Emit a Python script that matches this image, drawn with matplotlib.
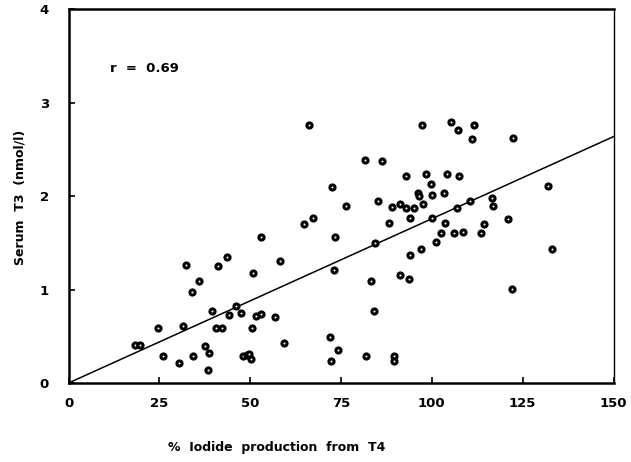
import matplotlib
matplotlib.use("Agg")
import matplotlib.pyplot as plt
import numpy as np

# % iodide production from T4 versus serum T3
iodide_pct = [18.2, 19.7, 24.7, 25.9, 30.3, 31.6, 32.3, 34.0, 34.2, 35.8,
              37.5, 38.3, 38.7, 39.4, 40.6, 41.2, 42.3, 43.7, 44.3, 46.2,
              47.5, 48.0, 49.0, 49.7, 50.2, 50.4, 50.8, 51.7, 53.0, 52.9,
              56.9, 58.3, 59.4, 64.9, 66.3, 67.2, 71.9, 72.5, 72.3, 73.2,
              73.4, 74.3, 76.3, 81.5, 81.9, 83.2, 84.0, 84.3, 85.2, 86.3,
              88.3, 89.0, 89.6, 89.6, 91.1, 91.3, 92.9, 92.9, 93.6, 93.9,
              93.9, 95.0, 96.1, 96.5, 96.9, 97.2, 97.6, 98.5, 99.9, 100.0,
              100.1, 101.1, 102.5, 103.4, 103.6, 104.1, 105.2, 106.1, 106.8, 107.1,
              107.5, 108.5, 110.5, 111.1, 111.6, 113.6, 114.3, 116.6, 116.8, 120.9,
              122.2, 122.0, 132.0, 133.1]
serum_t3 = [0.41, 0.41, 0.59, 0.29, 0.21, 0.61, 1.26, 0.975, 0.29, 1.09,
            0.40, 0.14, 0.32, 0.77, 0.59, 1.25, 0.59, 1.35, 0.73, 0.82,
            0.75, 0.29, 0.30, 0.31, 0.26, 0.59, 1.18, 0.72, 0.74, 1.56,
            0.71, 1.30, 0.43, 1.70, 2.76, 1.77, 0.49, 2.10, 0.24, 1.21,
            1.56, 0.35, 1.89, 2.38, 0.29, 1.09, 0.77, 1.50, 1.95, 2.37,
            1.71, 1.88, 0.29, 0.24, 1.91, 1.16, 2.21, 1.875, 1.11, 1.76,
            1.37, 1.875, 2.03, 2.00, 1.43, 2.76, 1.91, 2.24, 2.125, 2.01,
            1.76, 1.51, 1.60, 2.03, 1.71, 2.24, 2.79, 1.60, 1.87, 2.71,
            2.21, 1.61, 1.95, 2.61, 2.76, 1.60, 1.70, 1.98, 1.89, 1.75,
            2.62, 1.01, 2.11, 1.43]

# regression line through the origin
fit_x = [0, 150]
slope = 0.01757
r_text = "r  =  0.69"

x_ticks = [0, 25, 50, 75, 100, 125, 150]
y_ticks = [0, 1, 2, 3, 4]

fig = plt.figure(figsize=(6.31, 4.62), dpi=100)
ax = fig.add_axes([0.1086, 0.171, 0.8637, 0.8095])

ax.plot(iodide_pct, serum_t3, linestyle="none", marker="o", markersize=3.7,
        markerfacecolor="white", markeredgecolor="black", markeredgewidth=2.2,
        zorder=3)
ax.plot(fit_x, [slope * v for v in fit_x], color="black", linewidth=1.1, zorder=2)

ax.set_xlim(0, 150)
ax.set_ylim(0, 4)
ax.set_xticks(x_ticks)
ax.set_yticks(y_ticks)
ax.tick_params(direction="in", length=4, width=1.2, pad=10, labelsize=9.5)
for lbl in ax.get_xticklabels() + ax.get_yticklabels():
    lbl.set_fontweight("bold")
ax.tick_params(axis="y", pad=14)

for side in ["left", "bottom", "top"]:
    ax.spines[side].set_linewidth(1.8)
ax.spines["right"].set_linewidth(1.0)

ax.text(11.4, 3.36, r_text, fontsize=9.5, fontweight="bold", va="center", ha="left")

fig.text(277 / 631, 1 - 447 / 462, "%  Iodide  production  from  T4",
         fontsize=9, fontweight="bold", ha="center", va="center")
fig.text(20 / 631, 1 - 197 / 462, "Serum  T3  (nmol/l)", rotation=90,
         fontsize=9, fontweight="bold", ha="center", va="center")

fig.savefig("out.png", dpi=100)
